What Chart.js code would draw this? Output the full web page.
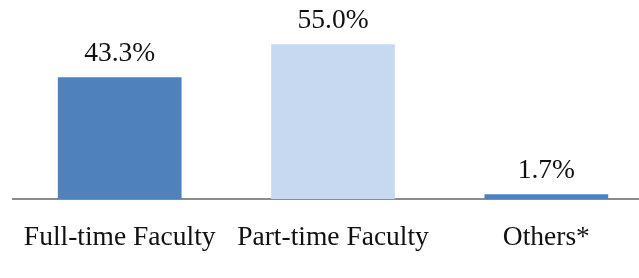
<!DOCTYPE html>
<html>
<head>
<meta charset="utf-8">
<script src="https://cdn.jsdelivr.net/npm/chart.js@4"></script>
<style>
  html,body{margin:0;padding:0;background:#fff;overflow:hidden}
  #wrap{position:relative;width:653px;height:278px}
</style>
</head>
<body>
<div id="wrap"><canvas id="chart"></canvas></div>
<script>
// Faculty share chart: three bars, value labels above each bar.
const CATEGORIES = ["Full-time Faculty", "Part-time Faculty", "Others*"];
const SHARES = [43.3, 55.0, 1.7];
const COLORS = ["#4F81BD", "#C6D9F1", "#4F81BD"];

const FONT = "'Liberation Serif', 'Times New Roman', serif";

// draws "43.3%" etc. just above each bar
const valueLabels = {
  id: "valueLabels",
  afterDatasetsDraw(chart){
    const ctx = chart.ctx;
    const meta = chart.getDatasetMeta(0);
    ctx.save();
    ctx.font = "27.5px " + FONT;
    ctx.fillStyle = "#111";
    ctx.textAlign = "center";
    ctx.textBaseline = "alphabetic";
    meta.data.forEach((bar, i) => {
      ctx.fillText(SHARES[i].toFixed(1) + "%", bar.x, bar.y - 16);
    });
    ctx.restore();
  }
};

new Chart(document.getElementById("chart"), {
  type: "bar",
  data: {
    labels: CATEGORIES,
    datasets: [{
      data: SHARES,
      backgroundColor: COLORS,
      borderWidth: 0,
      categoryPercentage: 1.0,
      barPercentage: 0.58
    }]
  },
  options: {
    responsive: true, maintainAspectRatio: false, animation: false,
    layout: {padding: {left: 11, right: 0, top: 2, bottom: 2}},
    plugins: {legend: {display: false}, tooltip: {enabled: false}},
    scales: {
      y: {display: false, min: 0, max: 70},
      x: {
        grid: {display: true, drawOnChartArea: false, drawTicks: false, color: "transparent"},
        border: {display: true, color: "#8c8c8c", width: 2},
        ticks: {padding: 22, color: "#111", font: {family: FONT, size: 27.5}, maxRotation: 0, autoSkip: false}
      }
    }
  },
  plugins: [valueLabels]
});
</script>
</body>
</html>
